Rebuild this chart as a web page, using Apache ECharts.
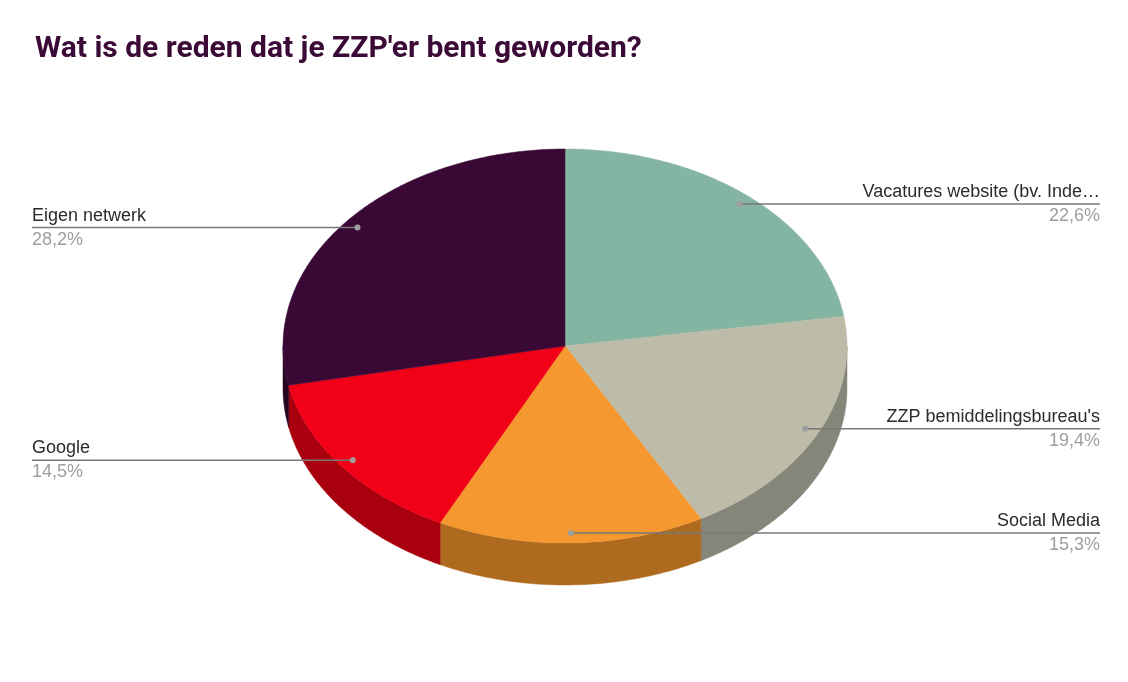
<!DOCTYPE html>
<html>
<head>
<meta charset="utf-8">
<script src="https://cdn.jsdelivr.net/npm/echarts@6/dist/echarts.min.js"></script>
<style>
 html,body{margin:0;padding:0;background:#fff;}
 #main{width:1128px;height:682px;}
</style>
</head>
<body>
<div id="main"></div>
<script>
var names = ["Vacatures website (bv. Inde…", "ZZP bemiddelingsbureau's", "Social Media", "Google", "Eigen netwerk"];
var values = [22.6, 19.4, 15.3, 14.5, 28.2];
var topColors = ["#84b4a2", "#bdbca8", "#f5982f", "#f20017", "#3a0835"];
var sideColors = ["#5e8576", "#85857a", "#ae6b1f", "#a8000f", "#260522"];

var total = values.reduce(function(a,b){return a+b;},0);
var starts = [];
var acc = 0;
values.forEach(function(v){ starts.push(acc); acc += v; });

// pie geometry (screen px)
var cx = 565, cy = 346, rx = 282, ry = 197, depth = 42;

function pt(t, dy){
 return [cx + rx*Math.sin(t), cy - ry*Math.cos(t) + (dy||0)];
}
function arc(t0, t1, dy){
 var pts = [];
 var n = Math.max(2, Math.ceil((t1-t0)/0.01));
 for(var i=0;i<=n;i++){
  pts.push(pt(t0 + (t1-t0)*i/n, dy));
 }
 return pts;
}

function renderItem(params, api){
 var i = params.dataIndex;
 var v = api.value(0);
 var a0 = starts[i]/total*Math.PI*2;
 var a1 = a0 + v/total*Math.PI*2;
 var children = [];

 // side wall, only the front half (pi/2 .. 3pi/2)
 var s0 = Math.max(a0, Math.PI/2), s1 = Math.min(a1, Math.PI*1.5);
 if(s1 > s0){
  var topEdge = arc(s0, s1, 0);
  var botEdge = arc(s0, s1, depth).reverse();
  children.push({
   type:"polygon", z2:1,
   shape:{points: topEdge.concat(botEdge)},
   style:{fill: sideColors[i], stroke: sideColors[i], lineWidth:0.5}
  });
 }

 // top face
 children.push({
  type:"polygon", z2:2,
  shape:{points: [[cx,cy]].concat(arc(a0, a1, 0))},
  style:{fill: topColors[i], stroke: topColors[i], lineWidth:0.5}
 });

 // label: dot + leader line + texts
 var mid = (a0+a1)/2;
 var d = [cx + rx*0.95*Math.sin(mid), cy - ry*0.95*Math.cos(mid)];
 var right = Math.sin(mid) > 0;
 var lx = right ? 1100 : 32;
 var pct = v.toFixed(1).replace(".", ",") + "%";
 children.push({
  type:"line", z2:10,
  shape:{x1: d[0], y1: d[1], x2: lx, y2: d[1]},
  style:{stroke:"#777777", lineWidth:1.5}
 });
 children.push({
  type:"circle", z2:11,
  shape:{cx: d[0], cy: d[1], r:3},
  style:{fill:"#9e9e9e"}
 });
 children.push({
  type:"text", z2:12,
  style:{x: lx, y: d[1]-3, text: names[i], fill:"#2b2b2b",
   font:"18px 'Liberation Sans', Arial, sans-serif",
   align: right ? "right" : "left", verticalAlign:"bottom"}
 });
 children.push({
  type:"text", z2:12,
  style:{x: lx, y: d[1]+3, text: pct, fill:"#9e9e9e",
   font:"18px 'Liberation Sans', Arial, sans-serif",
   align: right ? "right" : "left", verticalAlign:"top"}
 });

 return {type:"group", children: children};
}

var chart = echarts.init(document.getElementById("main"));
var option = {
 animation:false,
 backgroundColor:"#ffffff",
 title:{
  text:"Wat is de reden dat je ZZP'er bent geworden?",
  left:30, top:29,
  textStyle:{fontFamily:"Roboto", fontWeight:"bold", fontSize:30, color:"#3b0a37"}
 },
 series:[{
  type:"custom",
  coordinateSystem:"none",
  renderItem: renderItem,
  data: values.map(function(v){ return [v]; })
 }]
};
chart.setOption(option);
</script>
</body>
</html>
